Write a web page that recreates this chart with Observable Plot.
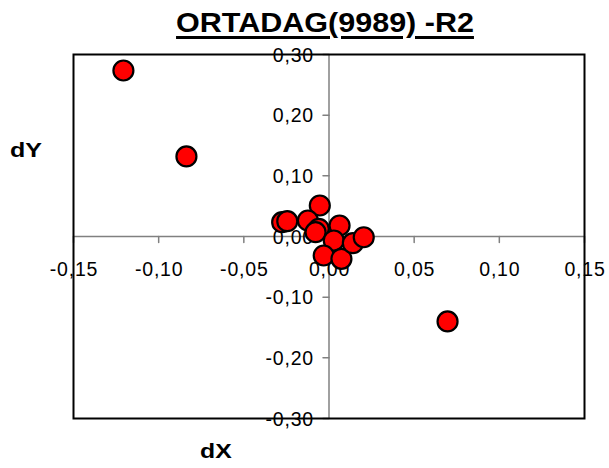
<!DOCTYPE html>
<html>
<head>
<meta charset="utf-8">
<script src="https://cdn.jsdelivr.net/npm/d3@7"></script>
<script src="https://cdn.jsdelivr.net/npm/@observablehq/plot@0.6"></script>
<style>
  html, body { margin: 0; padding: 0; background: #fff; }
  #wrap { position: relative; width: 609px; height: 468px; font-family: Arial, "Liberation Sans", sans-serif; }
  .lbl { position: absolute; font-weight: bold; color: #000; white-space: nowrap; line-height: normal; }
</style>
</head>
<body>
<div id="wrap">
  <div id="chart"></div>
  <div class="lbl" id="title" style="left:0; width:650px; top:7px; text-align:center; font-size:28px; text-decoration:underline; text-decoration-thickness:3px; text-underline-offset:4px; transform:scaleX(1.09); transform-origin:325px 0;">ORTADAG(9989) -R2</div>
  <div class="lbl" style="left:10px; top:138px; font-size:21px; transform:scaleX(1.19); transform-origin:0 0;">dY</div>
  <div class="lbl" style="left:200px; top:439px; font-size:21px; transform:scaleX(1.18); transform-origin:0 0;">dX</div>
</div>
<script>
const title = "ORTADAG(9989) -R2";
const dX = [-0.1207, -0.0837, 0.0696, -0.0275, -0.0245, -0.0054, -0.0124, -0.0060, -0.0079, 0.0062, 0.0028, -0.0031, 0.0073, 0.0140, 0.0204];
const dY = [0.2736, 0.1320, -0.1400, 0.0236, 0.0252, 0.0511, 0.0264, 0.0127, 0.0071, 0.0181, -0.0066, -0.0313, -0.0368, -0.0110, -0.0012];
const xTicks = [-0.15, -0.10, -0.05, 0.00, 0.05, 0.10, 0.15];
const xTickLabels = ["-0,15", "-0,10", "-0,05", "0,00", "0,05", "0,10", "0,15"];
const yTicks = [-0.30, -0.20, -0.10, 0.00, 0.10, 0.20, 0.30];
const yTickLabels = ["-0,30", "-0,20", "-0,10", "0,00", "0,10", "0,20", "0,30"];

const points = dX.map((x, i) => ({x, y: dY[i]}));
const tickShape = {draw(ctx, l) { ctx.moveTo(0, 0); ctx.lineTo(0, -l); }};

const chart = Plot.plot({
  width: 609,
  height: 468,
  marginLeft: 73,
  marginRight: 25,
  marginTop: 54,
  marginBottom: 50,
  x: {domain: [-0.15, 0.15], axis: null},
  y: {domain: [-0.30, 0.30], axis: null},
  style: {fontFamily: "Arial, 'Liberation Sans', sans-serif", background: "white", letterSpacing: "0.8px"},
  marks: [
    Plot.ruleX([0], {stroke: "#808080", strokeWidth: 1.5}),
    Plot.ruleY([0], {stroke: "#808080", strokeWidth: 1.5}),
    Plot.vector(xTicks, {x: d => d, y: 0, length: 6, rotate: 180, anchor: "start", shape: tickShape, stroke: "#808080", strokeWidth: 1.5}),
    Plot.vector(yTicks, {x: 0, y: d => d, length: 6, rotate: 270, anchor: "start", shape: tickShape, stroke: "#808080", strokeWidth: 1.5}),
    Plot.text(xTicks, {x: d => d, y: 0, text: (d, i) => xTickLabels[i], dy: 33, dx: 0.5, fontSize: 19.5, fill: "black", textAnchor: "middle"}),
    Plot.text(yTicks, {x: 0, y: d => d, text: (d, i) => yTickLabels[i], dx: -15, dy: 1, fontSize: 19.5, fill: "black", textAnchor: "end"}),
    Plot.frame({stroke: "black", strokeWidth: 2}),
    Plot.dot(points, {x: "x", y: "y", r: 10, fill: "#ff0000", stroke: "black", strokeWidth: 2.2})
  ]
});
document.getElementById("chart").appendChild(chart);
</script>
</body>
</html>
